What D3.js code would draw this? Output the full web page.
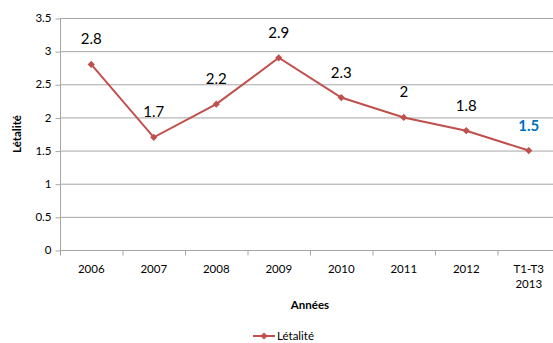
<!DOCTYPE html>
<html><head><meta charset="utf-8">
<script src="https://cdn.jsdelivr.net/npm/d3@7/dist/d3.min.js"></script>
<style>body{margin:0;background:#fff;} svg{display:block;font-family:Lato,"Open Sans",sans-serif;}</style>
</head><body>
<svg id="c" width="553" height="343"></svg>
<script>
const categories = ["2006","2007","2008","2009","2010","2011","2012","T1-T3\n2013"];
const values = [2.8, 1.7, 2.2, 2.9, 2.3, 2.0, 1.8, 1.5];
const labels = ["2.8","1.7","2.2","2.9","2.3","2","1.8","1.5"];
const yTicks = [0, 0.5, 1, 1.5, 2, 2.5, 3, 3.5];
const seriesName = "Létalité";

(function(){
const svg = d3.select("#c");
const mL = 60, mR = 560, mT = 18, mB = 250;
const x = d3.scaleBand().domain(categories).range([mL, mR]);
const y = d3.scaleLinear().domain([0, 3.5]).range([mB, mT]);
const red = "#C0504D";

// gridlines
svg.append("g").selectAll("line").data(yTicks.filter(d=>d>0)).join("line")
  .attr("x1", mL).attr("x2", mR).attr("y1", d=>y(d)+0.5).attr("y2", d=>y(d)+0.5)
  .attr("stroke", "#a6a6a6").attr("stroke-width", 1);

// y axis
const ya = svg.append("g").attr("transform", `translate(${mL+0.5},0)`)
  .call(d3.axisLeft(y).tickValues(yTicks).tickSize(5).tickPadding(4).tickFormat(d=>String(d)));
ya.select(".domain").attr("stroke", "#a6a6a6").attr("d", `M0,${y(3.5)+0.5}V${mB+0.5}`);
ya.selectAll(".tick line").attr("stroke", "#a6a6a6").attr("transform","translate(0,0.5)");
ya.selectAll("text").attr("font-size", 11.5).attr("fill", "#000").attr("font-family","Lato,sans-serif");

// x axis
const xa = svg.append("g").attr("transform", `translate(0,${mB+0.5})`);
xa.append("line").attr("x1", mL).attr("x2", mR).attr("stroke", "#a6a6a6");
const bounds = categories.map((c)=>x(c)).concat([mR]);
xa.selectAll("line.t").data(bounds).join("line").attr("class","t")
  .attr("x1", d=>d+0.5).attr("x2", d=>d+0.5).attr("y1",0).attr("y2",5).attr("stroke","#a6a6a6");
xa.selectAll("text").data(categories).join("text")
  .attr("x", d=>x(d)+x.bandwidth()/2).attr("y", 22)
  .attr("text-anchor","middle").attr("font-size", 11.5).attr("fill","#000")
  .each(function(d){
    const parts = d.split("\n");
    d3.select(this).selectAll("tspan").data(parts).join("tspan")
      .attr("x", x(d)+x.bandwidth()/2).attr("dy", (p,i)=> i===0?0:15).text(p=>p);
  });

// titles
svg.append("text").attr("x", (mL+mR)/2).attr("y", 309).attr("text-anchor","middle")
  .attr("font-weight","bold").attr("font-size", 11.5).text("Années");
svg.append("text").attr("transform", `translate(21,${(mT+mB)/2}) rotate(-90)`)
  .attr("text-anchor","middle").attr("font-weight","bold").attr("font-size", 11.5).text(seriesName);

// line
const pts = categories.map((c,i)=>({c, v: values[i], l: labels[i]}));
const cx = d=>x(d.c)+x.bandwidth()/2;
svg.append("path").datum(pts)
  .attr("d", d3.line().x(cx).y(d=>y(d.v)))
  .attr("fill","none").attr("stroke", red).attr("stroke-width", 2);
svg.append("g").selectAll("path").data(pts).join("path")
  .attr("d", d3.symbol().type(d3.symbolSquare).size(26))
  .attr("transform", d=>`translate(${cx(d)},${y(d.v)}) rotate(45)`)
  .attr("fill", red);

// value labels
svg.append("g").selectAll("text").data(pts).join("text")
  .attr("x", cx).attr("y", d=>y(d.v)-20)
  .attr("text-anchor","middle")
  .attr("font-size", 15)
  .attr("font-weight", (d,i)=> i===pts.length-1 ? "bold" : "normal")
  .attr("fill", (d,i)=> i===pts.length-1 ? "#0070C0" : "#000")
  .text(d=>d.l);

// legend
const lg = svg.append("g").attr("transform","translate(253,336)");
lg.append("line").attr("x1",0).attr("x2",22).attr("stroke",red).attr("stroke-width",2);
lg.append("path").attr("d", d3.symbol().type(d3.symbolSquare).size(26)).attr("transform","translate(11,0) rotate(45)").attr("fill",red);
lg.append("text").attr("x",24).attr("y",4).attr("font-size",11.5).text(seriesName);
})();
</script>
</body></html>
